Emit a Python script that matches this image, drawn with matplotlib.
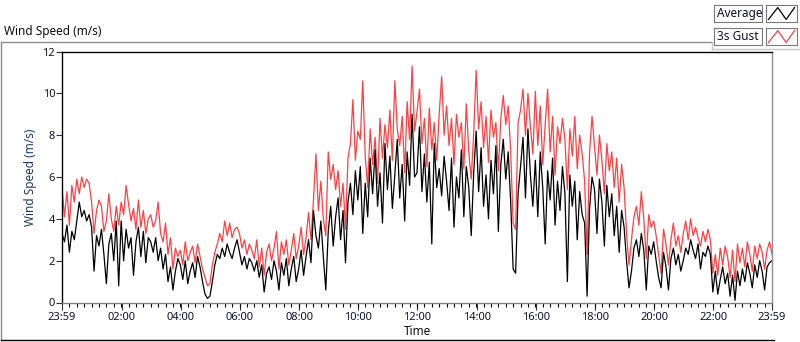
import numpy as np
import matplotlib
matplotlib.use("Agg")
import matplotlib.pyplot as plt
from matplotlib.lines import Line2D

##WWww=--  data section: --=wwWW##
# samples every 5 minutes, starting at 23:59 (one row = one hour)
avg_speed = [
    3.3, 2.9, 3.7, 2.4, 3.4, 3.0, 3.9, 4.8, 4.1, 4.4, 3.9, 4.2,
    3.6, 1.5, 3.2, 2.7, 3.5, 2.3, 0.9, 2.8, 3.3, 2.0, 3.9, 0.8,
    3.9, 2.0, 3.5, 2.6, 3.1, 1.3, 2.9, 3.6, 2.2, 3.4, 1.9, 3.1,
    2.9, 2.4, 3.1, 2.0, 2.6, 1.6, 2.3, 1.0, 1.7, 0.6, 1.5, 2.1,
    1.8, 1.1, 2.0, 0.9, 1.5, 1.9, 1.2, 2.2, 1.7, 1.0, 0.4, 0.2,
    0.3, 1.0, 1.8, 2.3, 2.1, 2.6, 2.2, 2.8, 2.4, 2.1, 2.6, 3.0,
    2.4, 1.8, 2.2, 1.6, 2.1, 1.9, 1.5, 2.0, 1.2, 1.8, 0.5, 1.4,
    1.7, 1.1, 2.0, 1.5, 0.6, 1.9, 1.3, 2.1, 0.8, 1.6, 2.2, 1.0,
    1.6, 2.5, 1.3, 2.2, 3.0, 1.9, 4.4, 3.2, 2.6, 3.9, 2.2, 0.6,
    3.4, 4.6, 2.7, 4.1, 5.0, 3.0, 4.4, 1.9, 4.8, 5.7, 4.2, 6.3,
    4.9, 6.5, 3.3, 5.7, 4.1, 6.9, 5.2, 7.3, 4.6, 6.2, 3.8, 7.6,
    5.4, 7.0, 4.5, 6.1, 7.8, 5.0, 6.6, 3.9, 7.2, 5.6, 9.0, 6.0,
    6.2, 8.4, 5.3, 7.1, 4.8, 6.7, 2.8, 7.6, 5.5, 6.4, 5.1, 7.0,
    5.8, 4.4, 6.9, 3.6, 6.0, 5.0, 7.3, 4.1, 6.5, 5.5, 3.2, 6.2,
    8.2, 5.3, 7.4, 4.6, 6.1, 4.0, 6.8, 5.2, 7.5, 3.4, 6.6, 7.8,
    5.9, 7.2, 4.8, 1.6, 1.4, 5.2, 6.5, 7.9, 5.0, 8.3, 6.1, 4.6,
    6.8, 4.1, 7.2, 5.5, 2.8, 6.3, 4.9, 6.9, 3.7, 5.8, 4.4, 6.5,
    5.2, 1.0, 6.1, 4.6, 5.8, 3.0, 5.3, 4.2, 3.8, 0.3, 4.5, 6.0,
    5.4, 3.3, 5.9, 4.8, 2.7, 5.6, 4.1, 5.2, 3.2, 4.6, 2.4, 4.4,
    3.6, 2.0, 0.7, 1.5, 2.6, 3.0, 2.2, 3.3, 2.5, 0.6, 2.7, 2.3,
    2.9, 2.0, 1.2, 0.7, 2.4, 1.7, 0.6, 2.1, 2.6, 1.8, 2.3, 1.5,
    2.0, 2.6, 2.3, 3.0, 2.5, 2.1, 2.8, 1.6, 2.4, 2.2, 2.7, 2.3,
    0.5, 1.5, 0.4, 1.1, 1.7, 0.9, 1.4, 0.3, 1.3, 0.1, 1.5, 0.8,
    1.6, 1.0, 1.9, 1.4, 0.7, 1.8, 1.2, 2.0, 1.5, 0.6, 1.7, 1.9,
    2.0,
]

gust_speed = [
    5.5, 4.1, 5.3, 3.7, 5.6, 4.8, 5.9, 5.2, 6.0, 5.5, 5.9, 5.7,
    4.8, 3.3, 4.4, 4.9, 4.6, 3.4, 3.9, 5.2, 4.0, 3.4, 4.6, 3.7,
    4.8, 4.2, 5.6, 4.7, 3.9, 4.5, 3.5, 4.9, 3.6, 4.4, 3.3, 4.0,
    4.2, 3.6, 3.9, 4.8, 3.3, 2.9, 3.8, 2.3, 3.1, 1.6, 2.6, 2.2,
    2.5, 1.8, 2.9, 2.0, 2.4, 2.7, 1.9, 2.8, 2.2, 1.6, 1.2, 0.8,
    0.9, 1.8, 2.4, 2.8, 3.3, 2.9, 3.9, 3.2, 3.8, 3.1, 3.5, 3.6,
    3.3, 2.6, 3.0, 2.3, 2.8, 2.5, 2.1, 3.0, 1.7, 2.6, 1.3, 2.4,
    2.8, 2.0, 2.6, 3.4, 1.6, 2.9, 2.3, 3.0, 1.8, 2.5, 3.3, 2.1,
    2.7, 3.6, 2.3, 3.1, 4.3, 3.0, 4.9, 7.1, 4.4, 5.8, 4.0, 3.2,
    7.2, 5.9, 6.6, 5.4, 6.3, 4.6, 5.7, 3.5, 6.9, 7.6, 9.7, 6.8,
    8.2, 7.8, 10.6, 7.0, 5.5, 8.3, 6.6, 7.9, 5.7, 8.8, 6.9, 8.5,
    7.4, 9.2, 6.8, 10.6, 8.3, 7.5, 8.9, 6.2, 9.6, 7.8, 11.3, 8.2,
    9.1, 10.2, 7.6, 8.8, 6.5, 9.3, 7.3, 8.6, 6.8, 9.0, 10.8, 8.0,
    9.4, 7.5, 8.8, 6.6, 9.0, 7.9, 8.6, 6.4, 9.5, 7.2, 5.9, 8.1,
    11.1, 8.3, 9.6, 7.4, 8.9, 6.7, 9.2, 7.9, 8.6, 6.3, 8.8, 9.9,
    8.5, 9.4, 7.2, 3.8, 3.5, 8.6, 9.2, 10.2, 8.0, 10.0, 8.4, 7.1,
    10.1, 7.5, 9.4, 6.6, 8.5, 10.2, 7.2, 8.9, 6.1, 8.4, 7.6, 8.8,
    7.8, 5.4, 8.3, 7.0, 8.9, 6.4, 8.0, 7.1, 5.8, 2.3, 7.2, 8.9,
    7.5, 6.1, 8.0, 6.8, 5.2, 7.6, 6.3, 7.2, 5.5, 6.9, 4.8, 6.6,
    5.5, 3.3, 1.8, 3.0, 4.1, 4.6, 3.7, 5.3, 4.0, 2.1, 4.2, 3.6,
    3.9, 3.2, 2.3, 1.4, 3.5, 2.8, 1.8, 3.0, 3.8, 2.7, 3.2, 2.4,
    3.3, 3.9, 3.0, 4.0, 3.2, 3.6, 3.1, 2.7, 3.4, 2.9, 3.5, 3.0,
    1.4, 2.3, 1.3, 2.6, 1.8, 2.7, 2.2, 1.2, 2.5, 1.0, 2.8, 1.9,
    2.6, 1.7, 2.9, 2.3, 1.5, 2.7, 2.1, 2.8, 2.4, 1.6, 2.5, 2.9,
    2.3,
]

tick_labels = ['23:59', '02:00', '04:00', '06:00', '08:00', '10:00', '12:00',
               '14:00', '16:00', '18:00', '20:00', '22:00', '23:59']
tick_hours  = [0.0] + [h + 1/60. for h in range(2, 24, 2)] + [24.0]
y_ticks     = [0, 2, 4, 6, 8, 10, 12]

time_h = np.arange(len(avg_speed)) * 5/60.   # hours since 23:59

#.............................................#
#---- figure:
plt.rcParams['font.family'] = ['Noto Sans', 'DejaVu Sans']
W, H = 800, 342
fig = plt.figure(figsize=(W/100., H/100.), dpi=100)
fig.patch.set_facecolor('white')

def fx(px): return px / W
def fy(py): return 1. - py / H

ax = fig.add_axes([fx(62), fy(302.5), fx(772) - fx(62), fy(51.5) - fy(302.5)])

ax.plot(time_h, gust_speed, color='#ff4040', lw=0.9)
ax.plot(time_h, avg_speed,  color='black',   lw=0.9)

ax.set_xlim(0, 24)
ax.set_ylim(0, 12)
ax.set_xticks(tick_hours)
ax.set_xticklabels(tick_labels)
ax.set_xticks(np.arange(0, 24.01, 0.25), minor=True)
ax.set_yticks(y_ticks)
ax.tick_params(axis='both', labelsize=8, colors='#303030', labelcolor='#101030')
ax.tick_params(axis='x', which='major', length=5, width=0.8, direction='out', pad=2)
ax.tick_params(axis='x', which='minor', length=3, width=0.8, direction='out')
ax.tick_params(axis='y', which='major', length=4, width=0.8, direction='out', pad=1)

ax.spines['top'].set_color('black')
ax.spines['left'].set_color('black')
ax.spines['right'].set_color('#909090')
ax.spines['bottom'].set_color('#808080')
for s in ax.spines.values():
    s.set_linewidth(1.0)

ax.set_xlabel('Time', fontsize=8.5, color='#101010', labelpad=1)
ax.set_ylabel('Wind Speed (m/s)', fontsize=8.5, color='#1f3a68', labelpad=4)

#---- outer panel frame and title:
gray = '#8c8c8c'
fig.add_artist(Line2D([fx(0.5), fx(0.5)], [fy(42), fy(340)], color=gray, lw=1))
fig.add_artist(Line2D([fx(0.5), fx(712)], [fy(42), fy(42)], color=gray, lw=1))
fig.add_artist(Line2D([fx(712), fx(712)], [fy(42), fy(49)], color='#c8c8c8', lw=1))
fig.add_artist(Line2D([fx(712), fx(800)], [fy(49), fy(49)], color='#c8c8c8', lw=1))
fig.add_artist(Line2D([fx(0.5), fx(774)], [fy(340), fy(340)], color='black', lw=1))

fig.text(fx(4), fy(31), 'Wind Speed (m/s)', fontsize=8.5, color='#101010',
         ha='left', va='center')

#---- legend (LabVIEW style plot legend):
for i, (name, col) in enumerate([('Average', 'black'), ('3s Gust', '#ff4040')]):
    y0 = 5 + i*23
    fig.text(fx(717), fy(y0 + 8.5), name, fontsize=8.5, color='#101030',
             ha='left', va='center')
    box = fig.add_axes([fx(714), fy(y0 + 17), fx(762) - fx(714), fy(y0) - fy(y0 + 17)])
    box.set_xticks([]); box.set_yticks([])
    box.patch.set_alpha(0)
    for s in box.spines.values():
        s.set_color('#7a7a7a')
    smp = fig.add_axes([fx(766), fy(y0 + 17), fx(797) - fx(766), fy(y0) - fy(y0 + 17)])
    smp.plot([0.08, 0.38, 0.65, 0.92], [0.15, 0.85, 0.15, 0.85], color=col, lw=0.9)
    smp.set_xlim(0, 1); smp.set_ylim(0, 1)
    smp.set_xticks([]); smp.set_yticks([])
    for s in smp.spines.values():
        s.set_color('#7a7a7a')

fig.savefig('out.png', dpi=100)
